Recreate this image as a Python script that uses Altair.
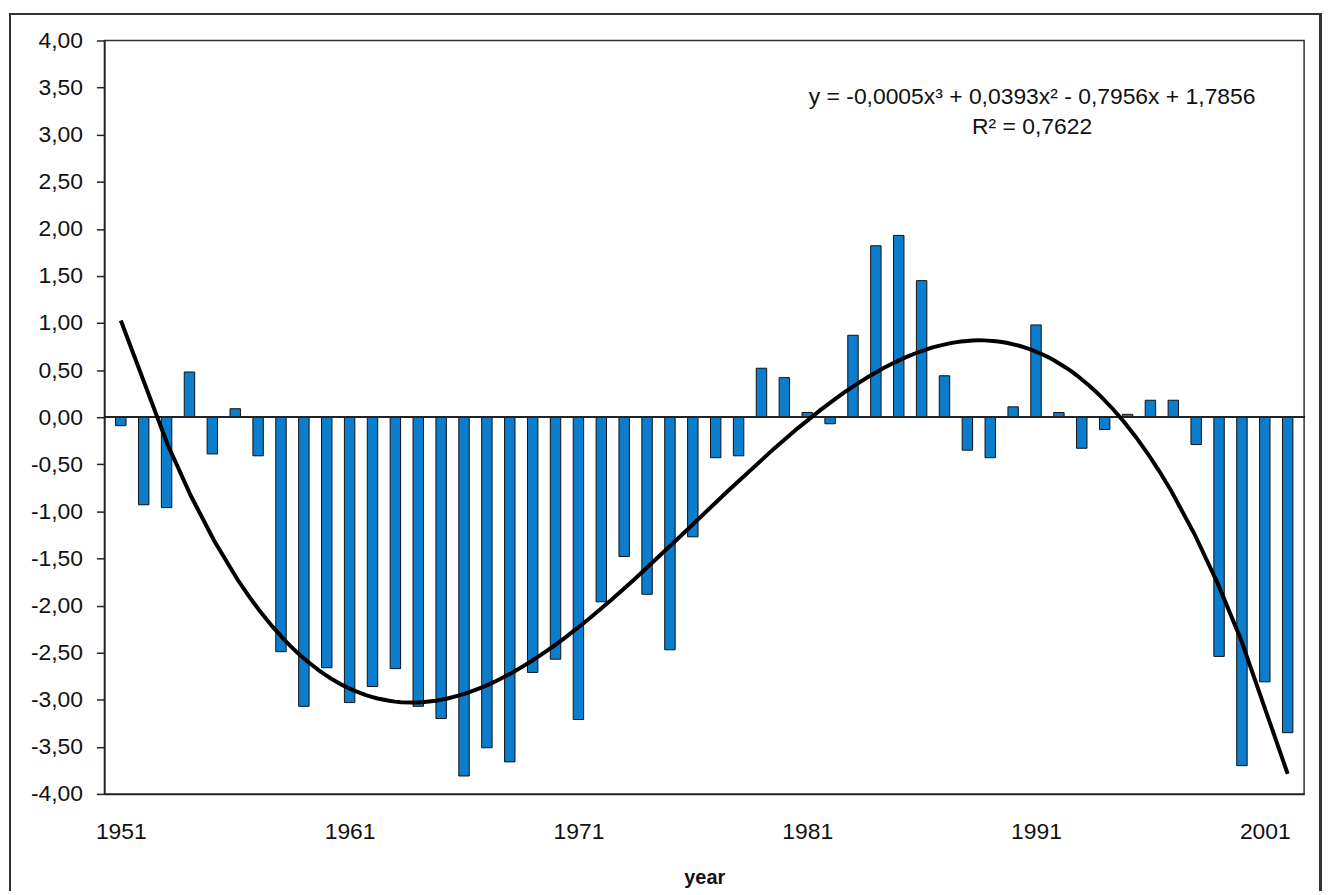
import altair as alt
import pandas as pd

years = list(range(1951, 2003))
values = [
    -0.09, -0.93, -0.96, 0.48, -0.39, 0.09, -0.41, -2.49, -3.07, -2.66,
    -3.03, -2.86, -2.67, -3.07, -3.20, -3.81, -3.51, -3.66, -2.71, -2.57,
    -3.21, -1.96, -1.48, -1.88, -2.47, -1.27, -0.43, -0.41, 0.52, 0.42,
    0.05, -0.07, 0.87, 1.82, 1.93, 1.45, 0.44, -0.35, -0.43, 0.11,
    0.98, 0.05, -0.33, -0.13, 0.03, 0.18, 0.18, -0.29, -2.54, -3.70,
    -2.81, -3.35,
]
x_tick_labels = [1951, 1961, 1971, 1981, 1991, 2001]
y_ticks = [-4.0, -3.5, -3.0, -2.5, -2.0, -1.5, -1.0, -0.5, 0.0, 0.5, 1.0, 1.5, 2.0, 2.5, 3.0, 3.5, 4.0]
equation_lines = ["y = -0,0005x³ + 0,0393x² - 0,7956x + 1,7856", "R² = 0,7622"]
equation_pos_year = [1990.83, 1990.83]
equation_pos_value = [3.40, 3.08]

df = pd.DataFrame({"year": years, "value": values})
ann = pd.DataFrame({"text": equation_lines, "year": equation_pos_year, "value": equation_pos_value})

FONT = "Liberation Sans"
W, H = 1207, 758

xscale = alt.Scale(domain=[1950.5, 2002.5], nice=False, zero=False)
yscale = alt.Scale(domain=[-4, 4], nice=False)

label_expr = "(datum.value < 0 ? '-' : '') + replace(format(abs(datum.value), '.2f'), '.', ',')"

x_axis = alt.Axis(
    values=x_tick_labels, format="d", title="year", grid=False,
    ticks=False, domain=True, domainColor="#222", domainWidth=1.5,
    labelFont=FONT, labelFontSize=23, labelColor="#111", labelPadding=27,
    titleFont=FONT, titleFontSize=20, titleFontWeight="bold", titleColor="#111",
    titlePadding=24, labelFlush=False,
)
y_axis = alt.Axis(
    values=y_ticks, labelExpr=label_expr, title=None, grid=False,
    ticks=True, tickSize=8, tickColor="#222", tickWidth=1.5,
    domain=True, domainColor="#222", domainWidth=1.5,
    labelFont=FONT, labelFontSize=23, labelColor="#111", labelPadding=14,
)

base = alt.Chart(df)

bars = base.mark_bar(size=10.5, color="#0B7DCC", stroke="#111", strokeWidth=1).encode(
    x=alt.X("year:Q", scale=xscale, axis=x_axis),
    y=alt.Y("value:Q", scale=yscale, axis=y_axis),
)

zero = base.mark_rule(color="#222", strokeWidth=1.5).encode(
    y=alt.datum(0, scale=yscale),
)

trend = base.transform_regression(
    "year", "value", method="poly", order=3
).mark_line(color="#000", strokeWidth=4).encode(
    x=alt.X("year:Q", scale=xscale),
    y=alt.Y("value:Q", scale=yscale),
)

eq = alt.Chart(ann).mark_text(font=FONT, fontSize=23, color="#111", align="center", baseline="middle").encode(
    x=alt.X("year:Q", scale=xscale),
    y=alt.Y("value:Q", scale=yscale),
    text="text:N",
)

frame = alt.Chart(df).mark_rect(fill=None, stroke="#333", strokeWidth=1.5).encode(
    x=alt.value(-95), x2=alt.value(1223.5), y=alt.value(-27), y2=alt.value(900),
)

chart = alt.layer(frame, bars, zero, trend, eq).properties(
    width=W, height=H,
    autosize=alt.AutoSizeParams(type="none"),
    padding={"left": 97, "top": 30, "right": 18, "bottom": 95},
    background="white",
).configure_view(stroke="#333", strokeWidth=1.5)

chart.save("out.html", embed_options={"renderer": "svg", "actions": False})
